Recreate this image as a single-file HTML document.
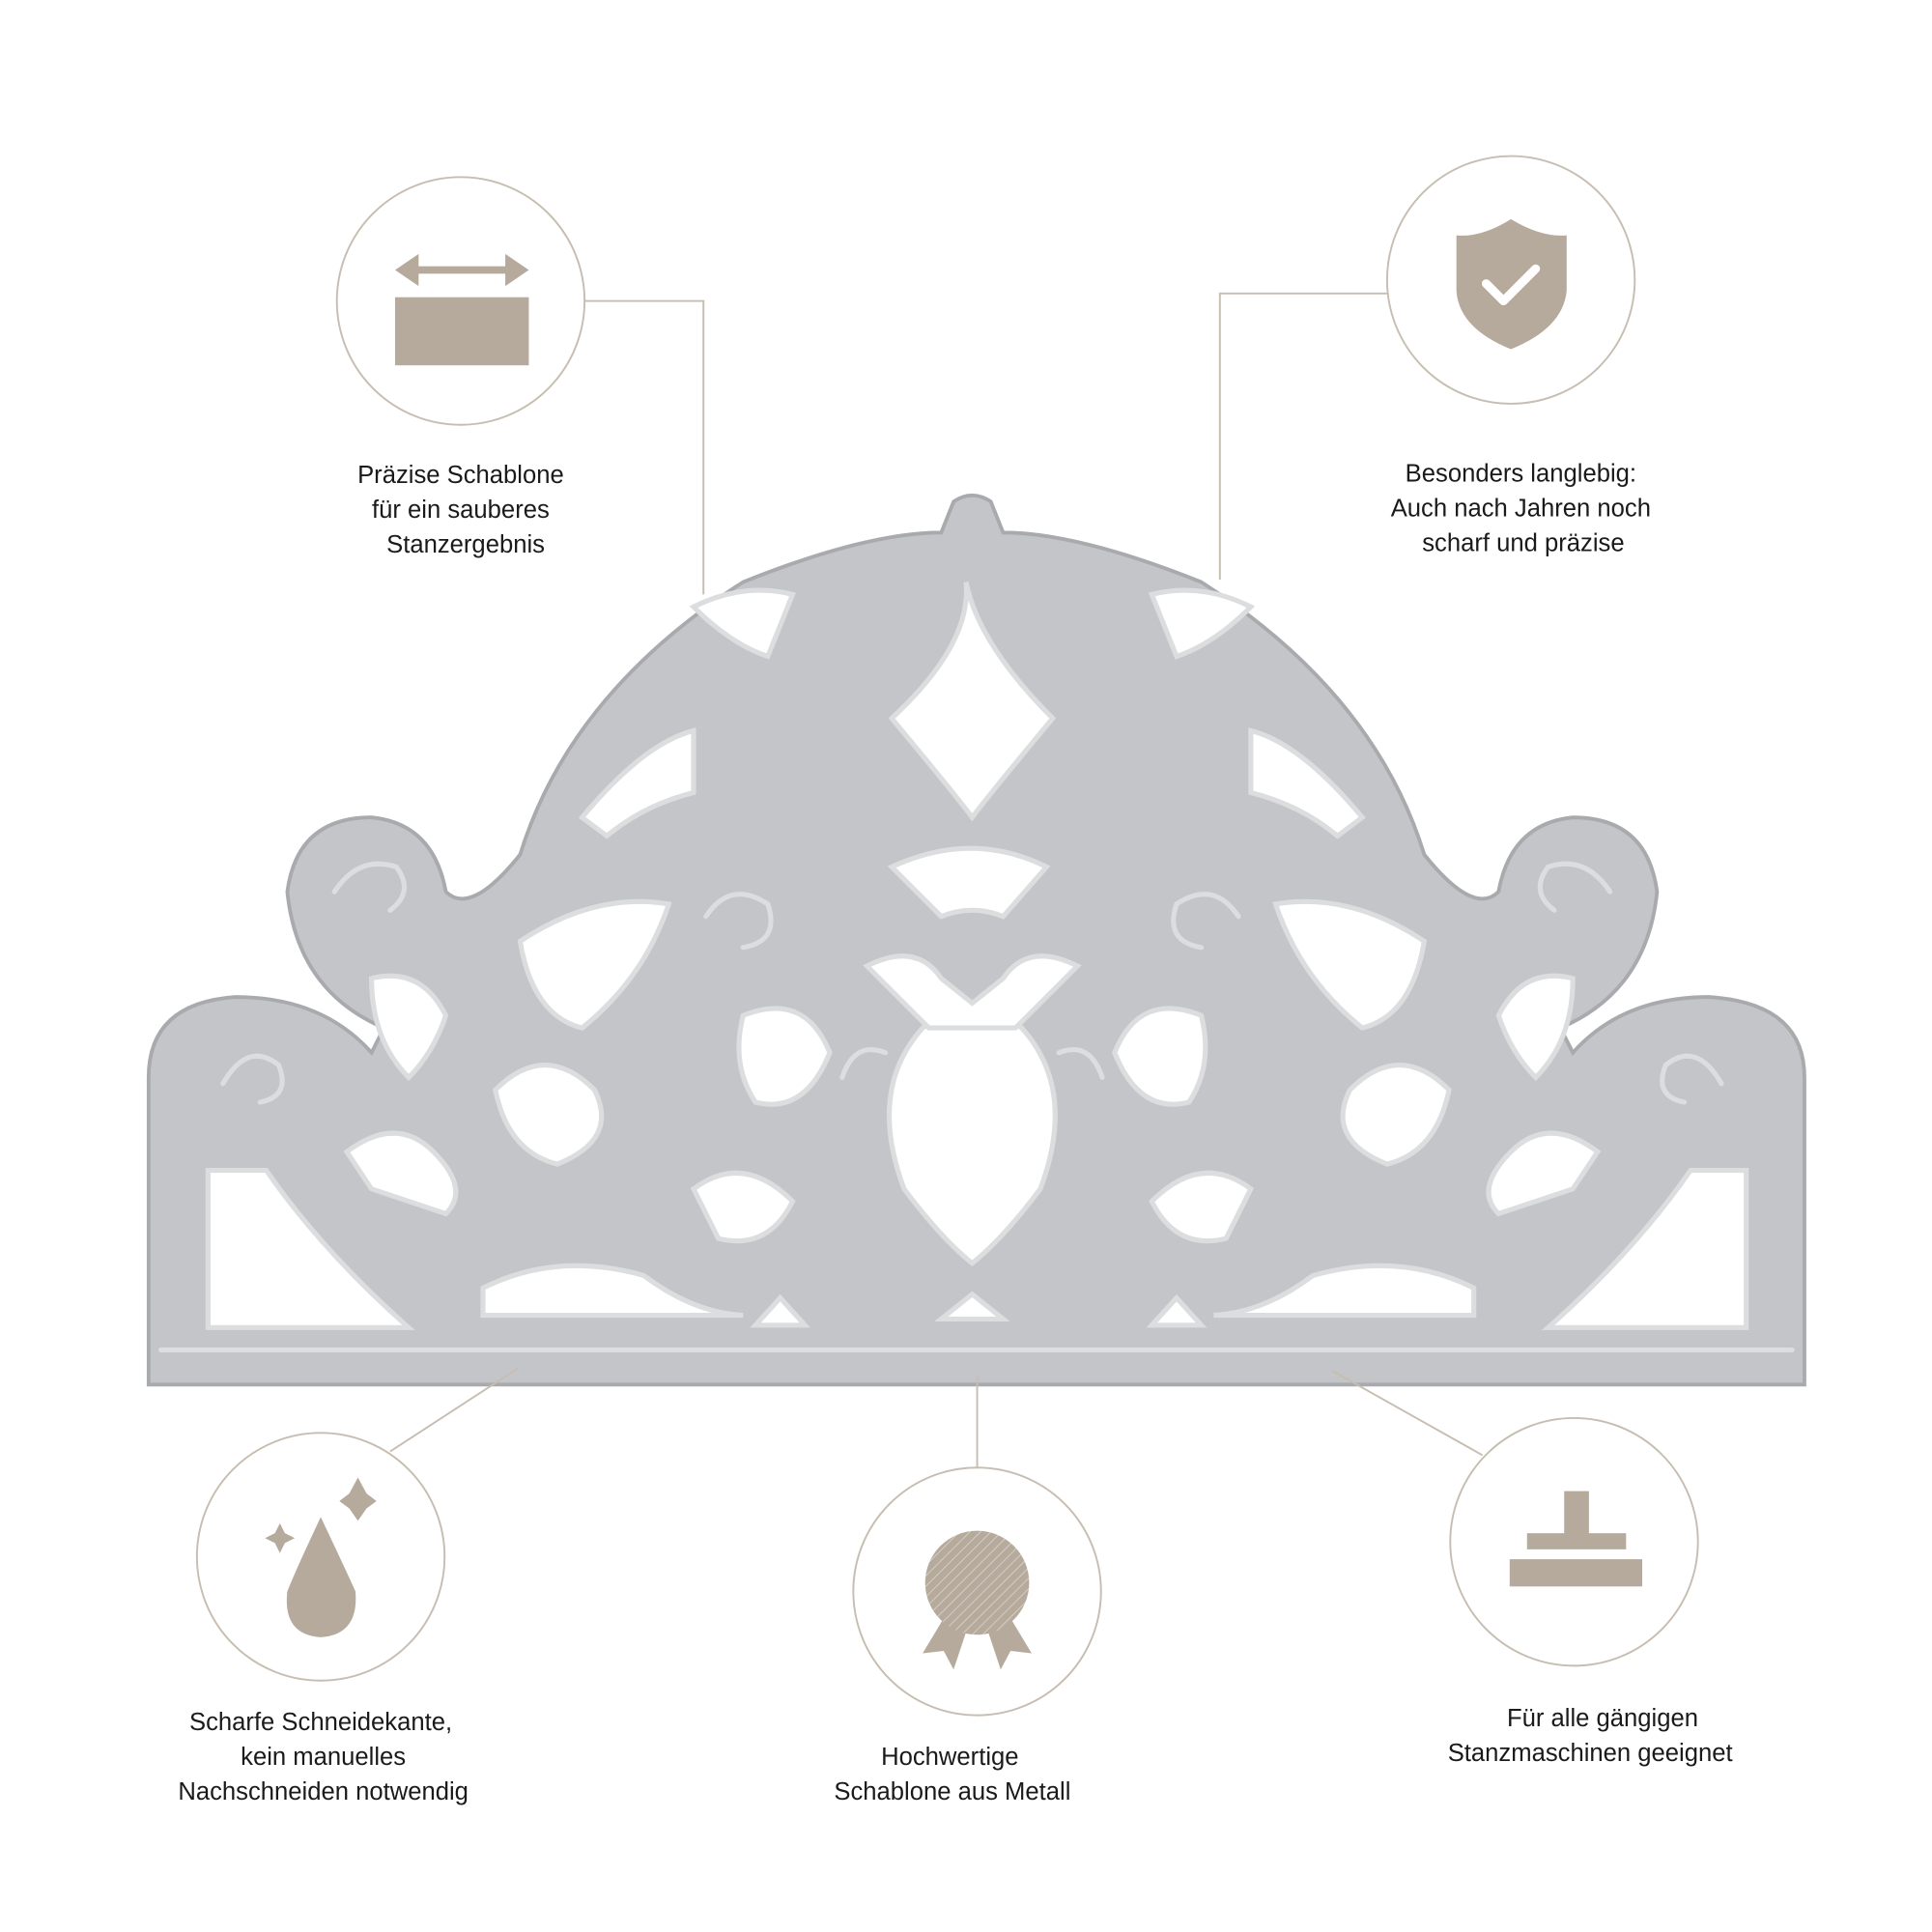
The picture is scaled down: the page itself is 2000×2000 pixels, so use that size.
<!DOCTYPE html>
<html><head><meta charset="utf-8"><style>
html,body{margin:0;padding:0;background:#fff;}
svg{display:block;}
text{font-family:"Liberation Sans",sans-serif;font-size:20px;fill:#1a1a1a;text-anchor:middle;}
</style></head><body>
<svg width="2000" height="2000" viewBox="0 0 1560 1560" xmlns="http://www.w3.org/2000/svg">
<defs>
<pattern id="hatch" width="6" height="6" patternUnits="userSpaceOnUse" patternTransform="rotate(45)">
<rect width="6" height="6" fill="#b5aa9c"/><line x1="0" y1="0" x2="0" y2="6" stroke="#d6cec4" stroke-width="1.5"/></pattern>
</defs>
<path d="M120,1118 L120,870 Q120,810 190,805 Q260,805 300,850 L310,830 Q240,800 232,720 Q240,660 300,660 Q350,665 360,720 Q380,740 420,690 Q460,560 600,470 Q700,430 760,430 L770,405 Q785,395 800,405 L810,430 Q870,430 970,470 Q1110,560 1150,690 Q1190,740 1210,720 Q1220,665 1270,660 Q1330,660 1338,720 Q1330,800 1260,830 L1270,850 Q1310,805 1380,805 Q1457,810 1457,870 L1457,1118 Z" fill="#c4c5c8" stroke="#a9aaad" stroke-width="3"/>
<g fill="#fff" stroke="#dcdddf" stroke-width="4">
<path d="M168,945 L215,945 Q260,1010 330,1072 L168,1072 Z"/>
<path d="M1410,945 L1365,945 Q1320,1010 1250,1072 L1410,1072 Z"/>
<path d="M390,1040 Q450,1010 520,1030 Q560,1060 600,1062 L390,1062 Z"/>
<path d="M1190,1040 Q1130,1010 1060,1030 Q1020,1060 980,1062 L1190,1062 Z"/>
<path d="M610,1070 L650,1070 L630,1048 Z"/><path d="M930,1070 L970,1070 L950,1048 Z"/>
<path d="M760,1065 L810,1065 L785,1045 Z"/>
<path d="M730,960 Q700,880 745,830 Q785,800 825,830 Q870,880 840,960 Q810,1000 785,1020 Q760,1000 730,960 Z"/>
<path d="M280,930 Q320,900 350,930 Q380,960 360,980 L300,960 Z"/>
<path d="M1290,930 Q1250,900 1220,930 Q1190,960 1210,980 L1270,960 Z"/>
<path d="M300,790 Q340,780 360,820 Q350,850 330,870 Q300,840 300,790 Z"/>
<path d="M1270,790 Q1230,780 1210,820 Q1220,850 1240,870 Q1270,840 1270,790 Z"/>
<path d="M470,660 Q520,600 560,590 L560,640 Q520,650 490,675 Z"/>
<path d="M1100,660 Q1050,600 1010,590 L1010,640 Q1050,650 1080,675 Z"/>
<path d="M560,490 Q600,470 640,480 L620,530 Q590,520 560,490 Z"/>
<path d="M1010,490 Q970,470 930,480 L950,530 Q980,520 1010,490 Z"/>
<path d="M720,700 Q785,670 845,700 L810,740 Q785,730 760,740 Z"/>
<path d="M700,780 Q740,760 760,790 L785,810 L810,790 Q830,760 870,780 L820,830 L750,830 Z"/>
<path d="M720,580 Q785,520 780,470 Q790,520 850,580 Q800,640 785,660 Q770,640 720,580 Z"/>
<path d="M420,760 Q480,720 540,730 Q520,790 470,830 Q430,820 420,760 Z"/>
<path d="M1150,760 Q1090,720 1030,730 Q1050,790 1100,830 Q1140,820 1150,760 Z"/>
<path d="M400,880 Q440,840 480,880 Q500,920 450,940 Q410,930 400,880 Z"/>
<path d="M1170,880 Q1130,840 1090,880 Q1070,920 1120,940 Q1160,930 1170,880 Z"/>
<path d="M600,820 Q650,800 670,850 Q650,900 610,890 Q590,860 600,820 Z"/>
<path d="M970,820 Q920,800 900,850 Q920,900 960,890 Q980,860 970,820 Z"/>
<path d="M560,960 Q600,930 640,970 Q620,1010 580,1000 Z"/>
<path d="M1010,960 Q970,930 930,970 Q950,1010 990,1000 Z"/>
</g>
<g fill="none" stroke="#dcdddf" stroke-width="4" stroke-linecap="round">
<path d="M180,875 Q200,840 225,860 Q235,885 210,890"/>
<path d="M1390,875 Q1370,840 1345,860 Q1335,885 1360,890"/>
<path d="M270,720 Q290,690 320,700 Q335,720 315,735"/>
<path d="M1300,720 Q1280,690 1250,700 Q1235,720 1255,735"/>
<path d="M570,740 Q590,710 620,730 Q630,760 600,765"/>
<path d="M1000,740 Q980,710 950,730 Q940,760 970,765"/>
<path d="M680,870 Q690,840 715,850"/><path d="M890,870 Q880,840 855,850"/>
<path d="M130,1090 L1447,1090"/>
</g>
<g stroke="#c7bdb1" stroke-width="1.5" fill="none">
<polyline points="472,243 568,243 568,480"/>
<polyline points="1120,237 985,237 985,468"/>
<line x1="315" y1="1172" x2="418" y2="1105"/>
<line x1="789" y1="1112" x2="789" y2="1185"/>
<line x1="1076" y1="1107" x2="1197" y2="1175"/>
</g>
<g fill="#fff" stroke="#c7bdb1" stroke-width="1.5">
<circle cx="372" cy="243" r="100"/><circle cx="1220" cy="226" r="100"/>
<circle cx="259" cy="1257" r="100"/><circle cx="789" cy="1285" r="100"/>
<circle cx="1271" cy="1245" r="100"/>
</g>
<g fill="#b5aa9c">
<rect x="319" y="240" width="108" height="55"/>
<rect x="335" y="215" width="76" height="6"/>
<polygon points="319,218 338,205 338,231"/><polygon points="427,218 408,205 408,231"/>
<path d="M1220,177 Q1245,192 1265,190 L1265,235 Q1262,265 1220,282 Q1178,265 1176,235 L1176,190 Q1196,192 1220,177 Z"/>
<path d="M259,1225 Q240,1265 232,1285 Q228,1320 259,1322 Q290,1320 287,1285 Q278,1265 259,1225 Z"/>
<path d="M289,1193 L296,1206 L304,1212 L296,1218 L289,1228 L282,1218 L274,1212 L282,1206 Z"/>
<path d="M226,1230 L230,1238 L238,1242 L230,1246 L226,1254 L222,1246 L214,1242 L222,1238 Z"/>
<rect x="1263" y="1204" width="20" height="36"/>
<rect x="1233" y="1238" width="80" height="13"/>
<rect x="1219" y="1259" width="107" height="22"/>
<polygon points="763,1305 745,1335 762,1333 770,1348 780,1318"/>
<polygon points="815,1305 833,1335 816,1333 808,1348 798,1318"/>
</g>
<circle cx="789" cy="1278" r="42" fill="url(#hatch)"/>
<path d="M1200,229 L1214,243 L1240,217" fill="none" stroke="#fff" stroke-width="7" stroke-linecap="round" stroke-linejoin="round"/>
<text x="372" y="390">Präzise Schablone</text>
<text x="372" y="418">für ein sauberes</text>
<text x="376" y="446">Stanzergebnis</text>
<text x="1228" y="389">Besonders langlebig:</text>
<text x="1228" y="417">Auch nach Jahren noch</text>
<text x="1230" y="445">scharf und präzise</text>
<text x="259" y="1397">Scharfe Schneidekante,</text>
<text x="261" y="1425">kein manuelles</text>
<text x="261" y="1453">Nachschneiden notwendig</text>
<text x="767" y="1425">Hochwertige</text>
<text x="769" y="1453">Schablone aus Metall</text>
<text x="1294" y="1394">Für alle gängigen</text>
<text x="1284" y="1422">Stanzmaschinen geeignet</text>
</svg>
</body></html>
